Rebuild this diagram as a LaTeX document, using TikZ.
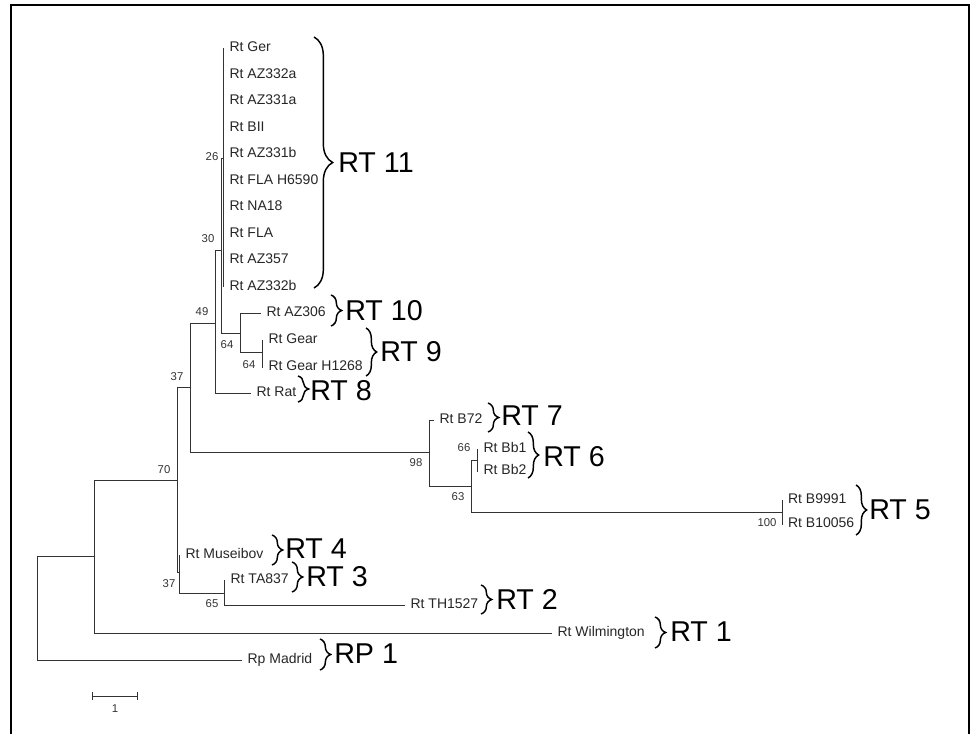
\documentclass[tikz,border=0pt]{standalone}
\usepackage{fontspec}
\setmainfont{Liberation Sans}
\usetikzlibrary{decorations.pathreplacing, arrows.meta}

\begin{document}
\begin{tikzpicture}[x=0.75pt, y=-0.75pt,
        branch/.style={draw=black!80, line width=0.7pt},
        leaf/.style={anchor=west, inner xsep=4pt, inner ysep=0pt, text height=7.5pt, text depth=2pt, font=\fontsize{10.5}{12}\selectfont, text=black!85},
        boot/.style={inner sep=0pt, font=\fontsize{8.5}{9}\selectfont, text=black!80},
        clade/.style={decorate, decoration={brace, amplitude=8pt}, line width=1.1pt},
        cladename/.style={anchor=west, inner sep=0pt, font=\fontsize{21.5}{24}\selectfont}]
        \useasboundingbox (0,0) rectangle (970,734);
        \draw [line width=1.5pt] (11,734) -- (11,5) -- (969,5) -- (969,734);

        % internal nodes
        \coordinate (R0) at (37, 608);
        \coordinate (NA) at (94, 556);
        \coordinate (N70) at (177, 480);
        \coordinate (N37a) at (190, 387);
        \coordinate (N49) at (215, 323);
        \coordinate (N30) at (221, 250);
        \coordinate (N26) at (223, 158);
        \coordinate (N64a) at (240, 333);
        \coordinate (N64b) at (262, 352);
        \coordinate (N98) at (429, 452);
        \coordinate (N63) at (471, 486);
        \coordinate (N66) at (477, 460);
        \coordinate (N100) at (782, 512);
        \coordinate (N37b) at (179, 572);
        \coordinate (N65) at (224, 593);

        % leaves
        \node [leaf] (NGer) at (224, 48) {Rt Ger};
        \node [leaf] (NAZ332a) at (224, 74.5) {Rt AZ332a};
        \node [leaf] (NAZ331a) at (224, 101) {Rt AZ331a};
        \node [leaf] (NBII) at (224, 127.5) {Rt BII};
        \node [leaf] (NAZ331b) at (224, 154) {Rt AZ331b};
        \node [leaf] (NFLAH) at (224, 180.5) {Rt FLA H6590};
        \node [leaf] (NNA18) at (224, 207) {Rt NA18};
        \node [leaf] (NFLA) at (224, 233.5) {Rt FLA};
        \node [leaf] (NAZ357) at (224, 260) {Rt AZ357};
        \node [leaf] (NAZ332b) at (224, 286.5) {Rt AZ332b};
        \node [leaf] (NAZ306) at (261, 313) {Rt AZ306};
        \node [leaf] (NGear) at (263, 340) {Rt Gear};
        \node [leaf] (NGearH) at (263, 367) {Rt Gear H1268};
        \node [leaf] (NRat) at (251, 393) {Rt Rat};
        \node [leaf] (NB72) at (434, 420) {Rt B72};
        \node [leaf] (NBb1) at (478, 449) {Rt Bb1};
        \node [leaf] (NBb2) at (478, 471) {Rt Bb2};
        \node [leaf] (NB9991) at (782.5, 500) {Rt B9991};
        \node [leaf] (NB10056) at (782.5, 524) {Rt B10056};
        \node [leaf] (NMus) at (180, 555) {Rt Museibov};
        \node [leaf] (NTA837) at (225, 580) {Rt TA837};
        \node [leaf] (NTH1527) at (405, 605) {Rt TH1527};
        \node [leaf] (NWilm) at (552, 633) {Rt Wilmington};
        \node [leaf] (NMadrid) at (242, 660) {Rp Madrid};

        % branches
        \draw [branch] (R0) |- (NA);
        \draw [branch] (R0) |- (NMadrid.west);
        \draw [branch] (NA) |- (N70);
        \draw [branch] (NA) |- (NWilm.west);
        \draw [branch] (N70) |- (N37a);
        \draw [branch] (N70) |- (N37b);
        \draw [branch] (N37a) |- (N49);
        \draw [branch] (N37a) |- (N98);
        \draw [branch] (N49) |- (N30);
        \draw [branch] (N49) |- (NRat.west);
        \draw [branch] (N30) |- (N26);
        \draw [branch] (N30) |- (N64a);
        \draw [branch] (N26) |- (NGer.west);
        \draw [branch] (N26) |- (NAZ332a.west);
        \draw [branch] (N26) |- (NAZ331a.west);
        \draw [branch] (N26) |- (NBII.west);
        \draw [branch] (N26) |- (NAZ331b.west);
        \draw [branch] (N26) |- (NFLAH.west);
        \draw [branch] (N26) |- (NNA18.west);
        \draw [branch] (N26) |- (NFLA.west);
        \draw [branch] (N26) |- (NAZ357.west);
        \draw [branch] (N26) |- (NAZ332b.west);
        \draw [branch] (N64a) |- (NAZ306.west);
        \draw [branch] (N64a) |- (N64b);
        \draw [branch] (N64b) |- (NGear.west);
        \draw [branch] (N64b) |- (NGearH.west);
        \draw [branch] (N98) |- (NB72.west);
        \draw [branch] (N98) |- (N63);
        \draw [branch] (N63) |- (N66);
        \draw [branch] (N63) |- (N100);
        \draw [branch] (N66) |- (NBb1.west);
        \draw [branch] (N66) |- (NBb2.west);
        \draw [branch] (N100) |- (NB9991.west);
        \draw [branch] (N100) |- (NB10056.west);
        \draw [branch] (N37b) |- (NMus.west);
        \draw [branch] (N37b) |- (N65);
        \draw [branch] (N65) |- (NTA837.west);
        \draw [branch] (N65) |- (NTH1527.west);

        % bootstrap values
        \node [boot] (BS26) at (212, 157) {26};
        \node [boot] (BS30) at (208, 239) {30};
        \node [boot] (BS49) at (202, 312) {49};
        \node [boot] (BS37a) at (177, 377) {37};
        \node [boot] (BS64a) at (227, 345) {64};
        \node [boot] (BS64b) at (249, 365) {64};
        \node [boot] (BS70) at (164, 470) {70};
        \node [boot] (BS98) at (416, 463) {98};
        \node [boot] (BS63) at (458, 497) {63};
        \node [boot] (BS66) at (464, 448) {66};
        \node [boot] (BS100) at (767, 523) {100};
        \node [boot] (BS37b) at (169, 584) {37};
        \node [boot] (BS65) at (212, 604) {65};

        % clades
        \draw [clade, decoration={amplitude=14pt}] (314, 37) -- (314, 288);
        \node [cladename] (RT11) at (338, 163) {RT 11};
        \draw [clade] (331, 295) -- (331, 326);
        \node [cladename] (RT10) at (345, 311) {RT 10};
        \draw [clade] (366, 328) -- (366, 376);
        \node [cladename] (RT9) at (380, 352) {RT 9};
        \draw [clade] (298, 376) -- (298, 402);
        \node [cladename] (RT8) at (310, 391) {RT 8};
        \draw [clade] (488, 403) -- (488, 432);
        \node [cladename] (RT7) at (501, 416) {RT 7};
        \draw [clade] (528, 432) -- (528, 478);
        \node [cladename] (RT6) at (543, 457) {RT 6};
        \draw [clade] (856, 485) -- (856, 535);
        \node [cladename] (RT5) at (869, 510) {RT 5};
        \draw [clade] (272, 535) -- (272, 565);
        \node [cladename] (RT4) at (285, 549) {RT 4};
        \draw [clade] (292, 562) -- (292, 592);
        \node [cladename] (RT3) at (306, 577) {RT 3};
        \draw [clade] (481, 585) -- (481, 614);
        \node [cladename] (RT2) at (496, 599) {RT 2};
        \draw [clade] (655, 617) -- (655, 648);
        \node [cladename] (RT1) at (670, 632) {RT 1};
        \draw [clade] (320, 639) -- (320, 670);
        \node [cladename] (RP1) at (334, 654) {RP 1};

        % scale bar
        \coordinate (SBa) at (92, 696);
        \coordinate (SBb) at (138, 696);
        \draw [branch, {Bar[width=6pt]}-{Bar[width=6pt]}] (SBa) -- (SBb);
        \node [boot] (SB) at (115, 709) {1};
\end{tikzpicture}
\end{document}
